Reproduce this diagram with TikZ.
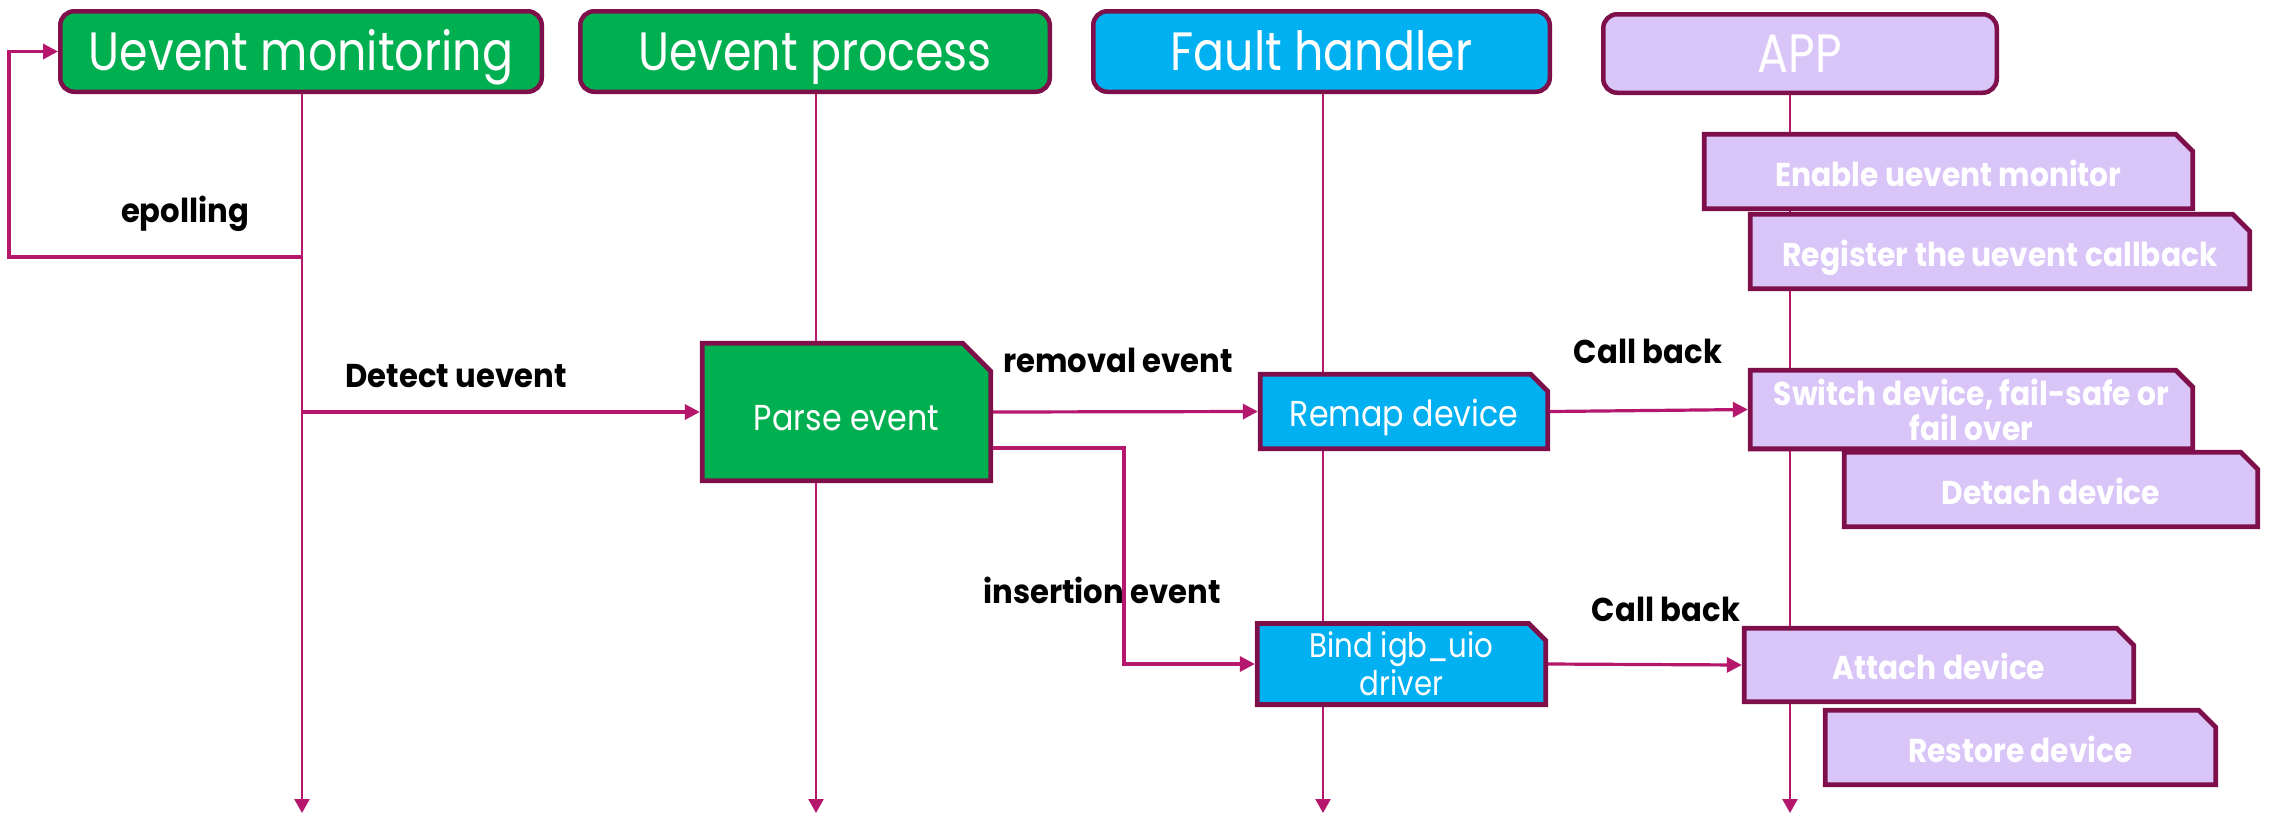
\documentclass[tikz,border=0pt]{standalone}
\usepackage{fontspec}
\setmainfont{Poppins}
\usepackage{graphicx}
\usetikzlibrary{arrows.meta,shapes.misc,backgrounds}
\definecolor{edge}{HTML}{7F0F4B}
\definecolor{wire}{HTML}{B4176C}
\definecolor{gfill}{HTML}{00B050}
\definecolor{bfill}{HTML}{00B0F0}
\definecolor{lfill}{HTML}{D9C5F8}
\newcommand{\sqz}[2]{\scalebox{#1}[1]{#2}}
\begin{document}
\begin{tikzpicture}[x=1pt,y=-1pt,
  head/.style={rectangle,draw=edge,line width=4.5pt,rounded corners=14pt,text=white,
    inner sep=0pt,font=\fontsize{54}{64}\selectfont,text height=38pt,text depth=0pt},
  stepbox/.style={chamfered rectangle,chamfered rectangle corners=north east,
    chamfered rectangle xsep=8.5pt,chamfered rectangle ysep=8.5pt,
    draw=edge,line width=4.8pt,text=white,inner sep=0pt,minimum height=74.5pt},
  plainbox/.style={stepbox,font=\fontsize{36}{44}\selectfont,text height=30pt,text depth=0pt},
  boldbox/.style={stepbox,fill=lfill,font=\fontsize{33}{40}\selectfont\bfseries,text height=29pt,text depth=0pt},
  lab/.style={anchor=base,inner sep=0pt,font=\fontsize{33}{40}\selectfont\bfseries},
  life/.style={draw=wire,line width=2.5pt,-{Triangle[length=14pt,width=15pt]}},
  flow/.style={draw=wire,line width=3.2pt,-{Triangle[length=15pt,width=15pt]}}
]
\useasboundingbox (0,0) rectangle (2270,815);

% lane headers
\node[head,fill=gfill,minimum width=481.5pt,minimum height=80.5pt] (hmon) at (301,51.5) {\sqz{0.85}{Uevent monitoring}};
\node[head,fill=gfill,minimum width=469.5pt,minimum height=80.5pt] (hproc) at (815,51.5) {\sqz{0.85}{Uevent process}};
\node[head,fill=bfill,minimum width=456.5pt,minimum height=80.5pt] (hfault) at (1321.5,51.5) {\sqz{0.85}{Fault handler}};
\node[head,fill=lfill,minimum width=393.5pt,minimum height=78.5pt] (happ) at (1800,53.5) {\sqz{0.85}{APP}};

% lifeline ends
\coordinate (emon) at (302,813);
\coordinate (eproc) at (816,813);
\coordinate (efault) at (1323,813);
\coordinate (eapp) at (1790,813);

% processing steps
\node[plainbox,fill=gfill,chamfered rectangle xsep=14pt,chamfered rectangle ysep=14pt,
  minimum width=288.5pt,minimum height=137.5pt,text height=37pt] (parse) at (846.5,412) {\sqz{0.88}{Parse event}};
\node[plainbox,fill=bfill,minimum width=287.5pt] (remap) at (1404,411.5) {\sqz{0.88}{Remap device}};
\node[stepbox,fill=bfill,minimum width=288.5pt,minimum height=75.5pt,align=center,
  font=\fontsize{34}{40}\selectfont] (bind) at (1401.5,664) {\sqz{0.86}{Bind igb\_uio}\\[-2pt]\sqz{0.86}{driver}};

\node[boldbox,minimum width=488.5pt] (enable) at (1948.5,171.5) {\sqz{0.9}{Enable uevent monitor}};
\node[boldbox,minimum width=499.5pt] (register) at (2000,251.5) {\sqz{0.9}{Register the uevent callback}};
\node[stepbox,fill=lfill,minimum width=442.5pt,align=center,
  font=\fontsize{33}{40}\selectfont\bfseries] (switch) at (1971.5,409.5) {\sqz{0.9}{Switch device, fail-safe or}\\[-5pt]\sqz{0.9}{fail over}};
\node[boldbox,minimum width=413.5pt] (detach) at (2051,489.5) {\sqz{0.9}{Detach device}};
\node[boldbox,minimum width=389.5pt,minimum height=73.5pt] (attach) at (1939,665) {\sqz{0.9}{Attach device}};
\node[boldbox,minimum width=390.5pt] (restore) at (2020.5,747.5) {\sqz{0.9}{Restore device}};

% message labels
\node[lab] (lpoll) at (185,222) {\sqz{0.93}{epolling}};
\node[lab] (ldetect) at (456,387) {\sqz{0.93}{Detect uevent}};
\node[lab] (lremove) at (1118,372) {\sqz{0.93}{removal event}};
\node[lab] (linsert) at (1102,603) {\sqz{0.93}{insertion event}};
\node[lab] (lcall1) at (1648,363) {\sqz{0.93}{Call back}};
\node[lab] (lcall2) at (1666,621) {\sqz{0.93}{Call back}};

% page background and lifelines behind the steps
\begin{scope}[on background layer]
  \fill[white] (0,0) rectangle (2270,815);
  \draw[life] (emon |- hmon.south) -- (emon);
  \draw[life] (eproc |- hproc.south) -- (eproc);
  \draw[life] (efault |- hfault.south) -- (efault);
  \draw[life] (eapp |- happ.south) -- (eapp);
\end{scope}

% messages
\coordinate (poll) at (9,257);
\draw[flow] (emon |- poll) -- (poll) |- (hmon.west);
\draw[flow] (emon |- parse.west) -- (parse.west);
\draw[flow] (parse.east) -- (remap.west);
\coordinate (insbend) at (1124,560);
\draw[flow] ([yshift=-36pt]parse.east) -| (insbend) |- (bind.west);
\draw[flow] (remap.east) -- (switch.west);
\draw[flow] (bind.east) -- (attach.west);
\end{tikzpicture}
\end{document}
